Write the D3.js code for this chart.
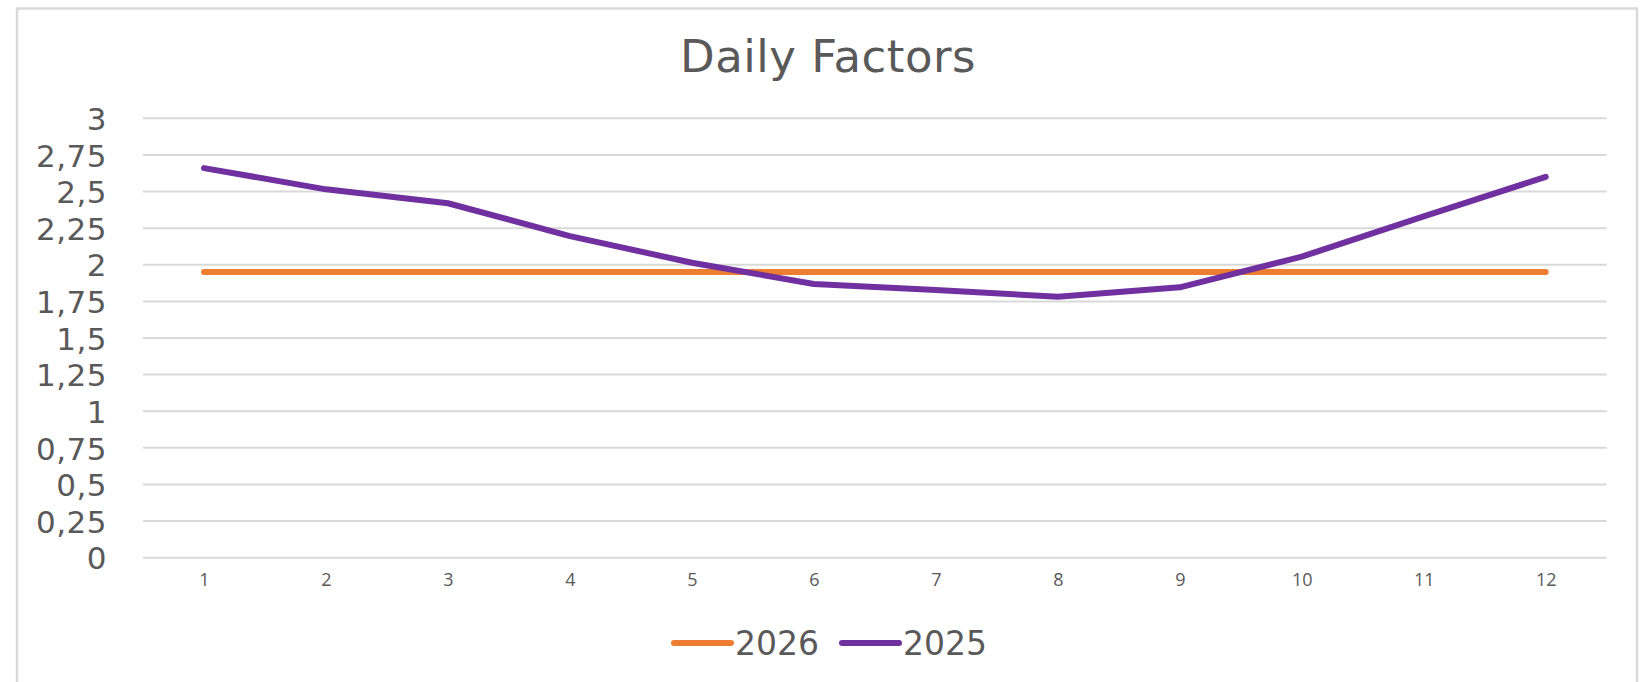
<!DOCTYPE html>
<html>
<head>
<meta charset="utf-8">
<script src="https://cdn.jsdelivr.net/npm/d3@7"></script>
<style>
  body { margin: 0; background: #fff; }
  svg { display: block; }
</style>
</head>
<body>
<svg id="chart" width="1647" height="682"></svg>
<script>
// data
const months = [1, 2, 3, 4, 5, 6, 7, 8, 9, 10, 11, 12]
const values2026 = [1.95, 1.95, 1.95, 1.95, 1.95, 1.95, 1.95, 1.95, 1.95, 1.95, 1.95, 1.95]
const values2025 = [2.66, 2.515, 2.42, 2.196, 2.014, 1.869, 1.828, 1.782, 1.846, 2.055, 2.33, 2.60]
const yTicks = [0, 0.25, 0.5, 0.75, 1, 1.25, 1.5, 1.75, 2, 2.25, 2.5, 2.75, 3]
const seriesNames = ['2026', '2025']
const seriesColors = ['#ED7D31', '#7030A0']

const svg = d3.select('#chart')
const textColor = '#595959'
const gothic = '"DejaVu Sans", sans-serif'

// outer border of the chart area
svg.append('rect')
    .attr('x', 17).attr('y', 8.5)
    .attr('width', 1620).attr('height', 700)
    .attr('fill', 'none')
    .attr('stroke', '#d9d9d9')
    .attr('stroke-width', 2.5)

// title
svg.append('text')
    .attr('x', 828).attr('y', 72)
    .attr('text-anchor', 'middle')
    .attr('font-family', gothic)
    .attr('font-size', 45)
    .attr('letter-spacing', 0.5)
    .attr('fill', textColor)
    .text('Daily Factors')

// x axis
const x = d3.scalePoint()
    .domain(months)
    .range([143, 1606.7])
    .padding(0.5)

// y axis
const y = d3.scaleLinear()
    .domain([0, 3])
    .range([557.7, 118.3])

const comma = d3.formatLocale({ decimal: ',', thousands: '.', grouping: [3], currency: ['', ''] }).format('~g')

// gridlines
svg.append('g')
    .selectAll('line')
    .data(yTicks)
    .enter()
    .append('line')
        .attr('x1', 143).attr('x2', 1606.7)
        .attr('y1', d => y(d)).attr('y2', d => y(d))
        .attr('stroke', '#d9d9d9')
        .attr('stroke-width', 2)

// y labels
const yaxis = d3.axisLeft(y).tickValues(yTicks).tickFormat(comma).tickSize(0).tickPadding(0)
const yg = svg.append('g')
    .attr('transform', 'translate(107, 0)')
    .call(yaxis)
yg.select('.domain').remove()
yg.selectAll('text')
    .attr('font-family', gothic)
    .attr('font-size', 31)
    .attr('letter-spacing', 0.5)
    .attr('fill', textColor)
    .attr('dy', '0.36em')

// x labels
const xaxis = d3.axisBottom(x).tickSize(0).tickPadding(0)
const xg = svg.append('g')
    .attr('transform', 'translate(0, 580)')
    .call(xaxis)
xg.select('.domain').remove()
xg.selectAll('text')
    .attr('font-family', '"Open Sans", sans-serif')
    .attr('font-size', 18)
    .attr('fill', textColor)
    .attr('dy', '0.36em')

// lines
const line = d3.line()
    .x((d, i) => x(months[i]))
    .y(d => y(d))

const allSeries = [values2026, values2025]
svg.append('g')
    .selectAll('path')
    .data(allSeries)
    .enter()
    .append('path')
        .attr('d', d => line(d))
        .attr('fill', 'none')
        .attr('stroke', (d, i) => seriesColors[i])
        .attr('stroke-width', 6)
        .attr('stroke-linecap', 'round')
        .attr('stroke-linejoin', 'round')

// legend
const legendX = [674, 842]
const legend = svg.append('g')
legend.selectAll('line')
    .data(seriesNames)
    .enter()
    .append('line')
        .attr('x1', (d, i) => legendX[i]).attr('x2', (d, i) => legendX[i] + 57)
        .attr('y1', 643).attr('y2', 643)
        .attr('stroke', (d, i) => seriesColors[i])
        .attr('stroke-width', 6)
        .attr('stroke-linecap', 'round')
legend.selectAll('text')
    .data(seriesNames)
    .enter()
    .append('text')
        .attr('x', (d, i) => legendX[i] + 61)
        .attr('y', 643)
        .attr('dy', '0.36em')
        .attr('font-family', gothic)
        .attr('font-size', 33)
        .attr('fill', textColor)
        .text(d => d)
</script>
</body>
</html>
